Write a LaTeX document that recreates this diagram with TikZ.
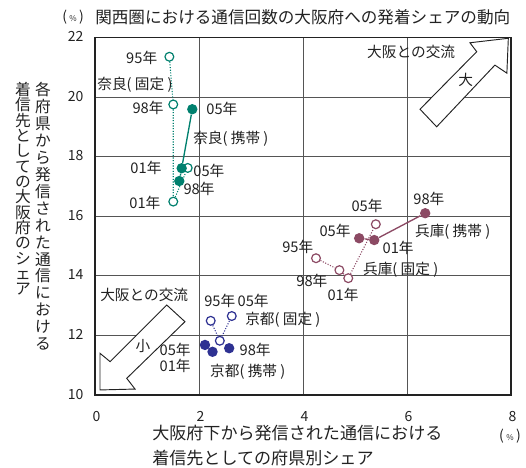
\documentclass[tikz,border=0pt]{standalone}
\usepackage{fontspec}
\setmainfont{Noto Sans CJK JP}
\definecolor{nara}{HTML}{00806E}
\definecolor{hyogo}{HTML}{8C4A64}
\definecolor{kyoto}{HTML}{2E3192}
\definecolor{gridc}{HTML}{555555}
\definecolor{txt}{HTML}{222222}

\begin{document}
\begin{tikzpicture}[x=39pt,y=22.35pt,
	lbl/.style={inner sep=0pt,text=txt,font=\fontsize{11}{13}\selectfont},
	ticklbl/.style={inner sep=0pt,text=txt,font=\fontsize{10.5}{12}\selectfont},
	fixpt/.style={circle,draw=#1,fill=white,line width=0.9pt,minimum size=6.6pt,inner sep=0pt},
	mobpt/.style={circle,fill=#1,minimum size=7.8pt,inner sep=0pt},
	fixln/.style={draw=#1,line width=0.8pt,dash pattern=on 0.8pt off 1.2pt},
	mobln/.style={draw=#1,line width=1pt},
	bigarrow/.style={draw=txt,fill=white,line width=0.7pt,line join=miter}]
	\useasboundingbox (-1.827,7.584) rectangle (8.288,23.255);

	% grid and frame
	\foreach \x in {2,4,6}
		\draw [gridc,line width=0.6pt] (\x,10) -- (\x,22);
	\foreach \y in {12,14,...,20}
		\draw [gridc,line width=0.6pt] (0,\y) -- (8,\y);
	\draw [txt,line width=0.9pt] (0,10) rectangle (8,22);

	% tick labels
	\foreach \y in {10,12,...,22}
		\node (yl\y) [ticklbl,anchor=east] at (-0.22,\y+0.03) {\y};
	\foreach \x in {0,2,...,8}
		\node (xl\x) [ticklbl] at (\x+0.03,9.27) {\x};

	% titles
	\node (pct) [ticklbl,anchor=west] at (-0.635,22.68) {(\,{\fontsize{6}{7}\selectfont\%}\,)};
	\node (title) [inner sep=0pt,anchor=west,text=txt,font=\fontsize{12.45}{14}\selectfont] at (0,22.68) {関西圏における通信回数の大阪府への発着シェアの動向};
	\node (xtitle) [inner sep=0pt,anchor=west,align=left,text=txt,font=\fontsize{12.8}{18.75}\selectfont] at (1.096,8.29) {大阪府下から発信された通信における\\着信先としての府県別シェア};
	\node (xpct) [ticklbl] at (7.98,8.62) {(\,{\fontsize{6}{7}\selectfont\%}\,)};
	\node (ytitleA) [inner sep=0pt,anchor=north,align=center,text=txt,font=\fontsize{11.8}{12.7}\selectfont] at (-1.0,20.5) {各\\府\\県\\か\\ら\\発\\信\\さ\\れ\\た\\通\\信\\に\\お\\け\\る};
	\node (ytitleB) [inner sep=0pt,anchor=north,align=center,text=txt,font=\fontsize{11.8}{11.5}\selectfont] at (-1.385,20.5) {着\\信\\先\\と\\し\\て\\の\\大\\阪\\府\\の\\シ\\ェ\\ア};

	% big arrows
	\draw [bigarrow] (7.948,21.97) -- (7.21,21.82) -- (7.34,21.52) -- (6.25,19.59) -- (6.57,19.0) -- (7.69,21.07) -- (7.92,20.80) -- cycle;
	\node (upcap) [lbl,anchor=west] at (5.23,21.51) {大阪との交流};
	\node (upsym) [lbl] at (7.13,20.57) {大};
	\draw [bigarrow] (0.096,10.17) -- (0.096,11.40) -- (0.29,11.12) -- (1.38,13.02) -- (1.73,12.46) -- (0.61,10.56) -- (0.77,10.20) -- cycle;
	\node (dncap) [lbl,anchor=west] at (0.096,13.36) {大阪との交流};
	\node (dnsym) [lbl] at (0.92,11.64) {小};

	% Nara
	\node (nf95) [fixpt=nara] at (1.43,21.35) {};
	\node (nf98) [fixpt=nara] at (1.505,19.75) {};
	\node (nf01) [fixpt=nara] at (1.505,16.49) {};
	\node (nf05) [fixpt=nara] at (1.783,17.62) {};
	\draw [fixln=nara] (nf95) -- (nf98) -- (nf01) -- (nf05);
	\node (nm98) [mobpt=nara] at (1.621,17.18) {};
	\node (nm01) [mobpt=nara] at (1.667,17.61) {};
	\node (nm05) [mobpt=nara] at (1.871,19.59) {};
	\draw [mobln=nara] (nm98) -- (nm01) -- (nm05);
	\node (lnf95) [lbl] at (0.898,21.31) {95年};
	\node (lnfix) [lbl,anchor=west] at (0.04,20.40) {奈良( 固定 )};
	\node (lnf98) [lbl] at (1.019,19.63) {98年};
	\node (lnm05) [lbl] at (2.44,19.60) {05年};
	\node (lnmob) [lbl,anchor=west] at (1.885,18.59) {奈良( 携帯 )};
	\node (lnm01) [lbl] at (0.98,17.62) {01年};
	\node (lnf05) [lbl] at (2.19,17.52) {05年};
	\node (lnm98) [lbl] at (2.0,16.91) {98年};
	\node (lnf01) [lbl] at (0.96,16.44) {01年};

	% Hyogo
	\node (hf95) [fixpt=hyogo] at (4.25,14.59) {};
	\node (hf98) [fixpt=hyogo] at (4.70,14.19) {};
	\node (hf01) [fixpt=hyogo] at (4.87,13.92) {};
	\node (hf05) [fixpt=hyogo] at (5.40,15.73) {};
	\draw [fixln=hyogo] (hf95) -- (hf98) -- (hf01) -- (hf05);
	\node (hm05) [mobpt=hyogo] at (5.08,15.26) {};
	\node (hm01) [mobpt=hyogo] at (5.37,15.20) {};
	\node (hm98) [mobpt=hyogo] at (6.35,16.10) {};
	\draw [mobln=hyogo] (hm05) -- (hm01) -- (hm98);
	\node (lhm98) [lbl] at (6.42,16.58) {98年};
	\node (lhmob) [lbl,anchor=west] at (6.15,15.47) {兵庫( 携帯 )};
	\node (lhf05) [lbl] at (5.23,16.34) {05年};
	\node (lhm05) [lbl] at (4.615,15.50) {05年};
	\node (lhf95) [lbl] at (3.90,14.97) {95年};
	\node (lhm01) [lbl] at (5.83,14.93) {01年};
	\node (lhfix) [lbl,anchor=west] at (5.15,14.19) {兵庫( 固定 )};
	\node (lhf98) [lbl] at (4.17,13.83) {98年};
	\node (lhf01) [lbl] at (4.77,13.36) {01年};

	% Kyoto
	\node (km05) [mobpt=kyoto] at (2.115,11.68) {};
	\node (km01) [mobpt=kyoto] at (2.26,11.45) {};
	\node (km98) [mobpt=kyoto] at (2.58,11.57) {};
	\node (kf95) [fixpt=kyoto] at (2.225,12.49) {};
	\node (kf05) [fixpt=kyoto] at (2.63,12.65) {};
	\node (kf98) [fixpt=kyoto] at (2.40,11.82) {};
	\draw [fixln=kyoto] (kf95) -- (kf98) -- (kf05);
	\node (lkf95) [lbl] at (2.40,13.15) {95年};
	\node (lkf05) [lbl] at (3.04,13.15) {05年};
	\node (lkfix) [lbl,anchor=west] at (2.885,12.52) {京都( 固定 )};
	\node (lkm05) [lbl] at (1.54,11.51) {05年};
	\node (lkm01) [lbl] at (1.54,10.97) {01年};
	\node (lkm98) [lbl] at (3.08,11.51) {98年};
	\node (lkmob) [lbl,anchor=west] at (2.21,10.77) {京都( 携帯 )};
\end{tikzpicture}
\end{document}
